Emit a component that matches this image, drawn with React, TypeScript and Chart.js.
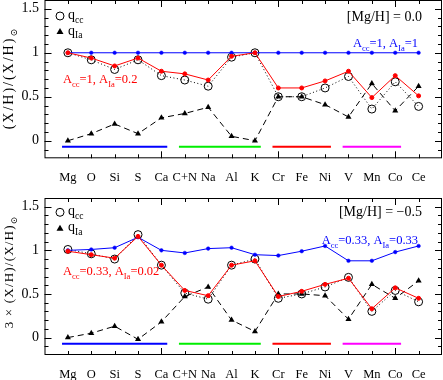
import React, { useEffect, useRef } from 'react';
import { Chart, registerables } from 'chart.js';

Chart.register(...registerables);

// ---------- data ----------
const elements = ['Mg', 'O', 'Si', 'S', 'Ca', 'C+N', 'Na', 'Al', 'K', 'Cr', 'Fe', 'Ni', 'V', 'Mn', 'Co', 'Ce'];
const yTickValues = [0, 0.5, 1, 1.5];

// top panel [Mg/H] = 0.0
const topModelBlue = [1, 1, 1, 1, 1, 1, 1, 1, 1, 1, 1, 1, 1, 1, 1, 1];
const topModelRed = [1.0, 0.94, 0.85, 0.94, 0.79, 0.76, 0.69, 0.96, 1.0, 0.6, 0.6, 0.68, 0.79, 0.49, 0.74, 0.51];
const topQcc = [1.0, 0.92, 0.81, 0.92, 0.74, 0.69, 0.62, 0.95, 1.0, 0.5, 0.5, 0.6, 0.73, 0.36, 0.67, 0.39];
const topQIa = [0.0, 0.08, 0.19, 0.08, 0.26, 0.31, 0.38, 0.05, 0.0, 0.5, 0.5, 0.41, 0.27, 0.65, 0.34, 0.62];

// bottom panel [Mg/H] = -0.5
const botModelBlue = [1.0, 1.01, 1.03, 1.15, 1.0, 0.97, 1.02, 1.03, 0.95, 0.94, 0.99, 1.05, 0.88, 0.88, 0.98, 1.05];
const botModelRed = [0.99, 0.95, 0.91, 1.16, 0.83, 0.54, 0.48, 0.83, 0.88, 0.47, 0.53, 0.61, 0.68, 0.33, 0.57, 0.45];
const botQcc = [1.01, 0.96, 0.9, 1.18, 0.83, 0.51, 0.44, 0.83, 0.9, 0.45, 0.5, 0.58, 0.69, 0.3, 0.54, 0.41];
const botQIa = [0.0, 0.05, 0.13, -0.02, 0.18, 0.47, 0.58, 0.2, 0.07, 0.5, 0.5, 0.48, 0.21, 0.61, 0.45, 0.65];

// element groups (index spans) shown as coloured bars
const groupStart = [-0.25, 4.75, 8.75, 11.75];
const groupEnd = [4.25, 8.25, 11.25, 14.25];
const groupLevel = -0.07;
const groupColors = ['#0000ff', '#00ee00', '#ff0000', '#ff00ff'];

const SERIF = '"Liberation Serif", "DejaVu Serif", serif';

type Seg = { t: string; sub?: boolean };

function richWidth(ctx: CanvasRenderingContext2D, segs: Seg[], size: number) {
  let w = 0;
  for (const s of segs) {
    ctx.font = `${s.sub ? size * 0.68 : size}px ${SERIF}`;
    w += ctx.measureText(s.t).width;
  }
  return w;
}

function drawRich(
  ctx: CanvasRenderingContext2D,
  segs: Seg[],
  x: number,
  y: number,
  size: number,
  color: string,
  align: 'left' | 'right' | 'center',
  spacing = 0
) {
  ctx.save();
  (ctx as any).letterSpacing = `${spacing}px`;
  const total = richWidth(ctx, segs, size);
  let cx = align === 'left' ? x : align === 'right' ? x - total : x - total / 2;
  ctx.fillStyle = color;
  ctx.textAlign = 'left';
  ctx.textBaseline = 'alphabetic';
  for (const s of segs) {
    const sz = s.sub ? size * 0.68 : size;
    ctx.font = `${sz}px ${SERIF}`;
    ctx.fillText(s.t, cx, s.sub ? y + size * 0.28 : y);
    cx += ctx.measureText(s.t).width;
  }
  ctx.restore();
}

type PanelText = {
  yTitle: Seg[];
  yTitleY: number;
  yTitleSize: number;
  yTitleSpacing: number;
  mg: string;
  mgY: number;
  blueLabel: Seg[];
  blueY: number;
  redLabel: Seg[];
  redY: number;
  legendY1: number;
  legendY2: number;
};

type PanelProps = {
  blue: number[];
  red: number[];
  qcc: number[];
  qia: number[];
  text: PanelText;
  padTop: number;
  xAxisHeight: number;
  labelPad: number;
};

const toXY = (arr: number[]) => arr.map((v, i) => ({ x: i, y: v }));

function Panel({ blue, red, qcc, qia, text, padTop, xAxisHeight, labelPad }: PanelProps) {
  const ref = useRef<HTMLCanvasElement | null>(null);
  useEffect(() => {
    if (!ref.current) return;
    const framePlugin = {
      id: 'frameAndText',
      afterDraw(chart: any) {
        const ctx: CanvasRenderingContext2D = chart.ctx;
        const { left, right, top, bottom } = chart.chartArea;
        const xs = chart.scales.x;
        const ys = chart.scales.y;
        ctx.save();
        ctx.strokeStyle = '#000';
        ctx.lineWidth = 1;
        ctx.strokeRect(left + 0.5, top + 0.5, right - left - 1, bottom - top - 1);
        ctx.beginPath();
        elements.forEach((_, i) => {
          const px = Math.round(xs.getPixelForValue(i)) + 0.5;
          const len = (i + 1) % 5 === 0 ? 7 : 4;
          ctx.moveTo(px, bottom);
          ctx.lineTo(px, bottom - len);
          ctx.moveTo(px, top);
          ctx.lineTo(px, top + len);
        });
        for (let k = -2; k <= 16; k++) {
          const py = Math.round(ys.getPixelForValue(k / 10)) + 0.5;
          if (py <= top + 1 || py >= bottom - 1) continue;
          const len = k % 5 === 0 ? 7 : 4;
          ctx.moveTo(left, py);
          ctx.lineTo(left + len, py);
          ctx.moveTo(right, py);
          ctx.lineTo(right - len, py);
        }
        ctx.stroke();
        ctx.restore();

        // y title
        ctx.save();
        ctx.translate(8, text.yTitleY);
        ctx.rotate(-Math.PI / 2);
        drawRich(ctx, text.yTitle, 0, 5, text.yTitleSize, '#000', 'center', text.yTitleSpacing);
        ctx.restore();

        // legend
        ctx.save();
        ctx.strokeStyle = '#000';
        ctx.lineWidth = 1;
        ctx.beginPath();
        ctx.arc(60, text.legendY1, 4, 0, Math.PI * 2);
        ctx.stroke();
        ctx.fillStyle = '#000';
        ctx.beginPath();
        ctx.moveTo(60, text.legendY2 - 3.5);
        ctx.lineTo(63.5, text.legendY2 + 2.5);
        ctx.lineTo(56.5, text.legendY2 + 2.5);
        ctx.closePath();
        ctx.fill();
        ctx.restore();
        drawRich(ctx, [{ t: 'q' }, { t: 'cc', sub: true }], 68, text.legendY1 + 3, 14, '#000', 'left');
        drawRich(ctx, [{ t: 'q' }, { t: 'Ia', sub: true }], 68, text.legendY2 + 3, 14, '#000', 'left');

        // annotations
        drawRich(ctx, [{ t: text.mg }], 422, text.mgY, 14, '#000', 'right');
        drawRich(ctx, text.blueLabel, 418, text.blueY, 12.5, '#0000ff', 'right');
        drawRich(ctx, text.redLabel, 63, text.redY, 12.5, '#ff0000', 'left');
      },
    };

    const bars = groupStart.map((s, i) => ({
      data: [
        { x: s, y: groupLevel },
        { x: groupEnd[i], y: groupLevel },
      ],
      borderColor: groupColors[i],
      borderWidth: 2,
      pointRadius: 0,
    }));

    const zeroPad = (scale: any) => {
      scale.paddingTop = 0;
      scale.paddingBottom = 0;
      scale.paddingLeft = 0;
      scale.paddingRight = 0;
    };

    const chart = new Chart(ref.current, {
      type: 'line',
      data: {
        datasets: [
          {
            data: toXY(red),
            borderColor: '#ff0000',
            backgroundColor: '#ff0000',
            borderWidth: 1,
            pointRadius: 2,
            pointBorderWidth: 1,
            pointBorderColor: '#ff0000',
          },
          {
            data: toXY(blue),
            borderColor: '#0000ff',
            backgroundColor: '#0000ff',
            borderWidth: 1,
            pointRadius: 1.8,
            pointBorderWidth: 0.5,
            pointBorderColor: '#0000ff',
          },
          {
            data: toXY(qcc),
            borderColor: '#000',
            borderWidth: 1,
            borderDash: [1, 2.5],
            pointRadius: 4,
            pointBorderWidth: 1,
            pointBorderColor: '#000',
            pointBackgroundColor: 'rgba(0,0,0,0)',
          },
          {
            data: toXY(qia),
            borderColor: '#000',
            borderWidth: 1,
            borderDash: [6, 4],
            pointStyle: 'triangle',
            pointRadius: 3.5,
            pointBorderWidth: 0,
            pointBackgroundColor: '#000',
          },
          ...bars,
        ] as any,
      },
      options: {
        animation: false,
        responsive: false,
        maintainAspectRatio: false,
        events: [],
        layout: { autoPadding: false, padding: { top: padTop, right: 1, left: 0, bottom: 0 } },
        plugins: { legend: { display: false }, tooltip: { enabled: false } },
        scales: {
          x: {
            type: 'linear',
            min: -1,
            max: 16,
            grid: { display: false, drawTicks: false },
            border: { display: false },
            afterBuildTicks: (scale: any) => {
              scale.ticks = elements.map((_, i) => ({ value: i }));
            },
            afterFit: (scale: any) => {
              scale.height = xAxisHeight;
              zeroPad(scale);
            },
            ticks: {
              autoSkip: false,
              maxRotation: 0,
              padding: labelPad,
              color: '#000',
              font: { family: SERIF, size: 12.5 },
              callback: (v: any) => elements[v as number] ?? '',
            },
          },
          y: {
            type: 'linear',
            min: -0.2,
            max: 1.6,
            grid: { display: false, drawTicks: false },
            border: { display: false },
            afterBuildTicks: (scale: any) => {
              scale.ticks = yTickValues.map((v) => ({ value: v }));
            },
            afterFit: (scale: any) => {
              scale.width = 44.5;
              zeroPad(scale);
            },
            ticks: {
              padding: 5.5,
              color: '#000',
              font: { family: SERIF, size: 14 },
              callback: (v: any) => String(v),
            },
          },
        },
      },
      plugins: [framePlugin],
    });
    return () => chart.destroy();
  }, []);
  return <canvas ref={ref} width={443} height={190} style={{ display: 'block' }} />;
}

const topText: PanelText = {
  yTitle: [{ t: '(X/H)/(X/H)' }, { t: '⊙', sub: true }],
  yTitleY: 78,
  yTitleSize: 14,
  yTitleSpacing: 2,
  mg: '[Mg/H] = 0.0',
  mgY: 20.5,
  blueLabel: [{ t: 'A' }, { t: 'cc', sub: true }, { t: '=1, A' }, { t: 'Ia', sub: true }, { t: '=1' }],
  blueY: 47,
  redLabel: [{ t: 'A' }, { t: 'cc', sub: true }, { t: '=1, A' }, { t: 'Ia', sub: true }, { t: '=0.2' }],
  redY: 83,
  legendY1: 16,
  legendY2: 31.5,
};

const botText: PanelText = {
  yTitle: [{ t: '3 × (X/H)/(X/H)' }, { t: '⊙', sub: true }],
  yTitleY: 82,
  yTitleSize: 13,
  yTitleSpacing: 1.2,
  mg: '[Mg/H] = −0.5',
  mgY: 26,
  blueLabel: [{ t: 'A' }, { t: 'cc', sub: true }, { t: '=0.33, A' }, { t: 'Ia', sub: true }, { t: '=0.33' }],
  blueY: 54,
  redLabel: [{ t: 'A' }, { t: 'cc', sub: true }, { t: '=0.33, A' }, { t: 'Ia', sub: true }, { t: '=0.02' }],
  redY: 85,
  legendY1: 22.3,
  legendY2: 38.3,
};

export default function App() {
  return (
    <div style={{ position: 'absolute', left: 0, top: 0, width: 443, height: 380, background: '#fff' }}>
      <Panel blue={topModelBlue} red={topModelRed} qcc={topQcc} qia={topQIa} text={topText} padTop={0} xAxisHeight={31.7} labelPad={11.5} />
      <Panel blue={botModelBlue} red={botModelRed} qcc={botQcc} qia={botQIa} text={botText} padTop={8} xAxisHeight={25} labelPad={12.5} />
    </div>
  );
}
